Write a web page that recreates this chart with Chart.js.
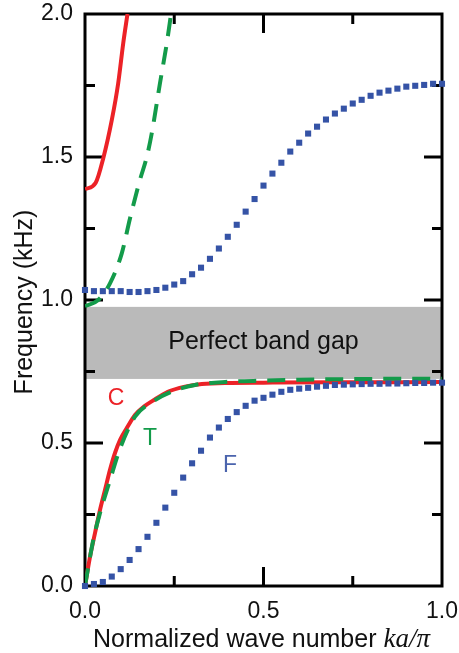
<!DOCTYPE html>
<html>
<head>
<meta charset="utf-8">
<script src="https://cdn.jsdelivr.net/npm/chart.js@4.4.0/dist/chart.umd.min.js"></script>
<style>
  html, body { margin: 0; padding: 0; background: #fff; }
</style>
</head>
<body>
<canvas id="myChart" width="459" height="653"></canvas>
<script>
// values (x = ka/pi, y = frequency in kHz)
var cLowK = [0, 0.014, 0.028, 0.042, 0.056, 0.07, 0.084, 0.098, 0.117, 0.14, 0.165, 0.19, 0.232, 0.28, 0.327, 0.392, 0.5, 0.7, 1.0];
var cLowF = [0, 0.102, 0.185, 0.266, 0.336, 0.406, 0.465, 0.51, 0.552, 0.598, 0.627, 0.648, 0.679, 0.697, 0.706, 0.710, 0.711, 0.712, 0.713];
var cHighK = [0, 0.030, 0.051, 0.075, 0.093, 0.107, 0.119];
var cHighF = [1.387, 1.410, 1.495, 1.629, 1.758, 1.897, 2.0];

var tLowK = [0, 0.023, 0.042, 0.07, 0.098, 0.14, 0.19, 0.24, 0.308, 0.4, 0.5, 0.6, 0.7, 0.8, 1.0];
var tLowF = [0, 0.16, 0.255, 0.37, 0.48, 0.592, 0.645, 0.678, 0.703, 0.714, 0.718, 0.721, 0.723, 0.724, 0.725];
var tHighK = [0, 0.037, 0.07, 0.103, 0.126, 0.154, 0.173, 0.187, 0.21, 0.229, 0.241];
var tHighF = [0.978, 1.0, 1.058, 1.163, 1.285, 1.42, 1.50, 1.583, 1.758, 1.897, 2.0];

var fK = [0, 0.025, 0.05, 0.075, 0.1, 0.125, 0.15, 0.175, 0.2, 0.225, 0.25, 0.275, 0.3, 0.325, 0.35, 0.375, 0.4, 0.425, 0.45, 0.475,
          0.5, 0.525, 0.55, 0.575, 0.6, 0.625, 0.65, 0.675, 0.7, 0.725, 0.75, 0.775, 0.8, 0.825, 0.85, 0.875, 0.9, 0.925, 0.95, 0.975, 1.0];
var fLowF = [0, 0.007, 0.014, 0.033, 0.059, 0.091, 0.129, 0.172, 0.221, 0.274, 0.326, 0.379, 0.429, 0.473, 0.519, 0.554, 0.584, 0.608, 0.630, 0.648,
             0.658, 0.669, 0.679, 0.686, 0.690, 0.693, 0.697, 0.700, 0.703, 0.704, 0.705, 0.706, 0.707, 0.707, 0.708, 0.708, 0.709, 0.710, 0.710, 0.711, 0.711];
var fHighF = [1.035, 1.031, 1.031, 1.031, 1.031, 1.028, 1.028, 1.031, 1.035, 1.043, 1.054, 1.066, 1.09, 1.113, 1.144, 1.18, 1.221, 1.263, 1.309, 1.353,
              1.400, 1.442, 1.480, 1.519, 1.550, 1.582, 1.606, 1.631, 1.652, 1.669, 1.687, 1.700, 1.714, 1.725, 1.732, 1.739, 1.746, 1.749, 1.752, 1.756, 1.756];

var gapLow = 0.724, gapHigh = 0.976;
var gapText = 'Perfect band gap';
var xMajor = [0.5], xMinor = [0.25, 0.75];
var yMajor = [0.5, 1.0, 1.5], yMinor = [0.25, 0.75, 1.25, 1.75];

var RED = '#ec2227', GREEN = '#139b4a', BLUE = '#3553a6';
var SANS = '"Liberation Sans", Arial, sans-serif';

// curve labels, in data coordinates
var curveLabels = [
    { text: 'C', k: 0.087, f: 0.654, color: RED },
    { text: 'T', k: 0.182, f: 0.514, color: GREEN },
    { text: 'F', k: 0.406, f: 0.420, color: '#4b64ad' }
];

var pts = (ks, fs) => ks.map((k, i) => ({ x: k, y: fs[i] }));

var lineDs = (data, color, dashed) => ({
    data: data,
    showLine: true,
    borderColor: color,
    borderWidth: 4,
    borderDash: dashed ? [18, 11] : [],
    borderCapStyle: 'butt',
    pointRadius: 0,
    cubicInterpolationMode: 'monotone',
    fill: false
});

var dotDs = (data) => ({
    data: data,
    showLine: false,
    pointStyle: 'rect',
    pointRadius: 4.3,
    pointHoverRadius: 4.3,
    pointBorderWidth: 0,
    pointBackgroundColor: BLUE,
    clip: false
});

var frame = {
    id: 'frame',
    beforeDatasetsDraw: function(chart) {
        var ctx = chart.ctx, a = chart.chartArea, xs = chart.scales.x, ys = chart.scales.y;
        ctx.save();
        // band gap
        var top = ys.getPixelForValue(gapHigh), bot = ys.getPixelForValue(gapLow);
        ctx.fillStyle = '#bababa';
        ctx.fillRect(a.left, top, a.right - a.left, bot - top);
        ctx.fillStyle = '#111';
        ctx.font = '25px ' + SANS;
        ctx.textAlign = 'center';
        ctx.textBaseline = 'alphabetic';
        ctx.fillText(gapText, (a.left + a.right) / 2, (top + bot) / 2 + 6.5);
        // box
        ctx.strokeStyle = '#000';
        ctx.lineWidth = 3;
        ctx.strokeRect(a.left, a.top, a.right - a.left, a.bottom - a.top);
        // inward ticks
        ctx.beginPath();
        var tx = (vals, len) => vals.forEach(v => {
            var p = xs.getPixelForValue(v);
            ctx.moveTo(p, a.bottom); ctx.lineTo(p, a.bottom - len);
            ctx.moveTo(p, a.top); ctx.lineTo(p, a.top + len);
        });
        var ty = (vals, len) => vals.forEach(v => {
            var p = ys.getPixelForValue(v);
            ctx.moveTo(a.left, p); ctx.lineTo(a.left + len, p);
            ctx.moveTo(a.right, p); ctx.lineTo(a.right - len, p);
        });
        tx(xMajor, 19); tx(xMinor, 10);
        ty(yMajor, 18); ty(yMinor, 10);
        ctx.stroke();
        ctx.restore();
    },
    afterDraw: function(chart) {
        var ctx = chart.ctx, a = chart.chartArea, xs = chart.scales.x, ys = chart.scales.y;
        ctx.save();
        ctx.textAlign = 'center';
        ctx.textBaseline = 'middle';
        ctx.font = '23px ' + SANS;
        curveLabels.forEach(l => {
            ctx.fillStyle = l.color;
            ctx.fillText(l.text, xs.getPixelForValue(l.k), ys.getPixelForValue(l.f));
        });
        // x title with italic ka/pi
        ctx.fillStyle = '#111';
        ctx.textBaseline = 'alphabetic';
        ctx.textAlign = 'left';
        var part1 = 'Normalized wave number ', part2 = 'ka/\u03c0';
        var f1 = '25px ' + SANS, f2 = 'italic 27px "Liberation Serif", "Times New Roman", serif';
        ctx.font = f1; var w1 = ctx.measureText(part1).width;
        ctx.font = f2; var w2 = ctx.measureText(part2).width;
        var x0 = (a.left + a.right) / 2 - (w1 + w2) / 2 - 2;
        ctx.font = f1; ctx.fillText(part1, x0, 647);
        ctx.font = f2; ctx.fillText(part2, x0 + w1, 647);
        // y title
        ctx.font = '25px ' + SANS;
        ctx.textAlign = 'center';
        ctx.translate(32, (a.top + a.bottom) / 2 + 2);
        ctx.rotate(-Math.PI / 2);
        ctx.fillText('Frequency (kHz)', 0, 0);
        ctx.restore();
    }
};

var ctx = document.getElementById('myChart').getContext('2d');
var chart = new Chart(ctx, {
    type: 'scatter',
    data: {
        datasets: [
            dotDs(pts(fK, fLowF)),
            dotDs(pts(fK, fHighF)),
            lineDs(pts(tLowK, tLowF), GREEN, true),
            lineDs(pts(tHighK, tHighF), GREEN, true),
            lineDs(pts(cLowK, cLowF), RED, false),
            lineDs(pts(cHighK, cHighF), RED, false)
        ]
    },
    options: {
        responsive: false,
        devicePixelRatio: 1,
        animation: false,
        events: [],
        layout: { padding: { left: 0, top: 14, right: 17, bottom: 0 } },
        plugins: { legend: { display: false }, tooltip: { enabled: false } },
        scales: {
            x: {
                type: 'linear', min: 0, max: 1,
                grid: { display: false, drawTicks: false },
                border: { display: false },
                ticks: { stepSize: 0.5, padding: 12, maxRotation: 0, color: '#111',
                         font: { family: SANS, size: 23 }, callback: v => v.toFixed(1) },
                afterFit: s => { s.height = 67; s.paddingLeft = 0; s.paddingRight = 0; }
            },
            y: {
                type: 'linear', min: 0, max: 2,
                grid: { display: false, drawTicks: false },
                border: { display: false },
                ticks: { stepSize: 0.5, padding: 12, color: '#111',
                         font: { family: SANS, size: 23 }, callback: v => v.toFixed(1) },
                afterFit: s => { s.width = 85; s.paddingTop = 0; s.paddingBottom = 0; }
            }
        }
    },
    plugins: [frame]
});
</script>
</body>
</html>
